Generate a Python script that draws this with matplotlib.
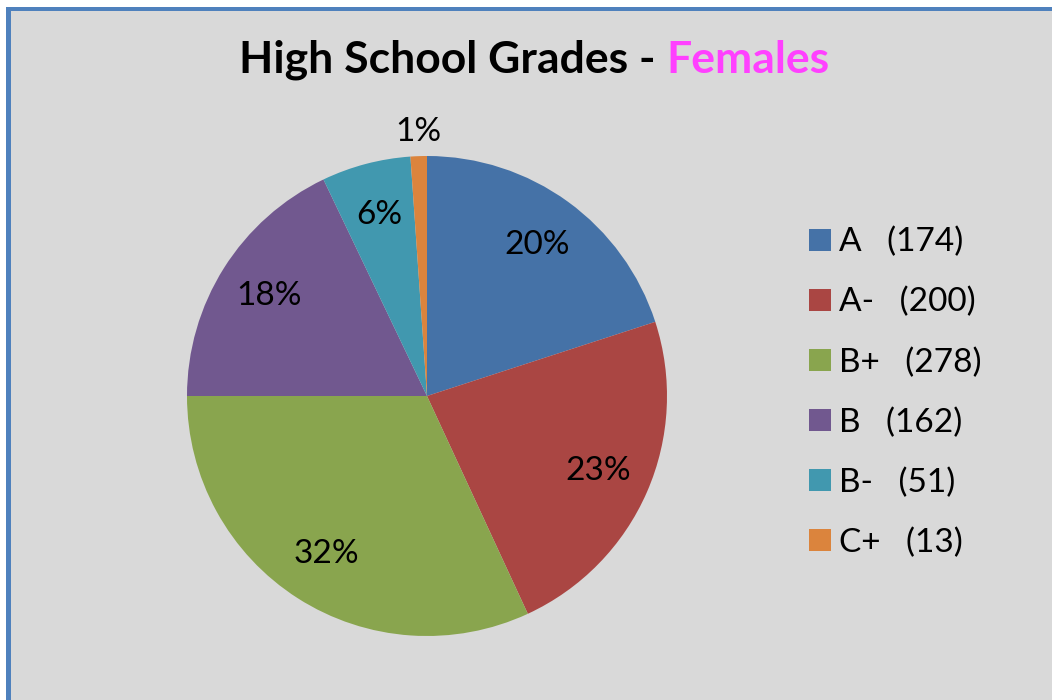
import matplotlib.pyplot as plt
from matplotlib.patches import Rectangle, Patch

grades = ['A', 'A-', 'B+', 'B', 'B-', 'C+']
counts = [174, 200, 278, 162, 51, 13]
# slice shares as drawn in the chart (percent)
shares = [20.0, 23.1, 31.9, 17.9, 6.0, 1.1]
legend_labels = ['A   (174)', 'A-   (200)', 'B+   (278)', 'B   (162)', 'B-   (51)', 'C+   (13)']
colors = ['#4572A7', '#AA4643', '#89A54E', '#71588F', '#4198AF', '#DB843D']

W, H = 1052, 700
plt.rcParams['font.family'] = ['Lato', 'DejaVu Sans']

fig = plt.figure(figsize=(W / 100, H / 100), dpi=100)
fig.patch.set_facecolor('white')

# chart area background and blue border on left / top
fig.patches.append(Rectangle((6 / W, 0), 1, 1 - 7 / H, transform=fig.transFigure,
                             facecolor='#D9D9D9', edgecolor='none', zorder=-2))
fig.patches.append(Rectangle((6 / W, 0), 5 / W, 1 - 7 / H, transform=fig.transFigure,
                             facecolor='#4F81BD', edgecolor='none', zorder=-1))
fig.patches.append(Rectangle((6 / W, 1 - 11 / H), 1, 4 / H, transform=fig.transFigure,
                             facecolor='#4F81BD', edgecolor='none', zorder=-1))

cx, cy, r = 427, 396, 240
ax = fig.add_axes([(cx - r) / W, (H - cy - r) / H, 2 * r / W, 2 * r / H])
ax.set_zorder(2)
ax.patch.set_visible(False)
wedges, texts, autotexts = ax.pie(shares, colors=colors, startangle=90, counterclock=False,
                                  autopct='%.0f%%', pctdistance=0.78,
                                  wedgeprops=dict(linewidth=0),
                                  textprops=dict(fontsize=24, color='black'))
# smallest slice label sits outside the pie
x, y = autotexts[-1].get_position()
autotexts[-1].set_position((x * 1.1 / 0.78, y * 1.1 / 0.78))
ax.set_xlim(-1, 1)
ax.set_ylim(-1, 1)
ax.axis('off')

handles = [Patch(facecolor=c, edgecolor='none') for c in colors]
fig.legend(handles, legend_labels, loc='upper left', bbox_to_anchor=(779 / W, 1 - 197 / H),
           frameon=False, fontsize=24, handlelength=0.65, handleheight=0.65,
           handletextpad=0.25, labelspacing=0.89)

# two-colour title
t1 = fig.text(0, 1 - 60 / H, 'High School Grades - ', fontsize=32, fontweight='bold',
              color='black', va='center')
t2 = fig.text(0, 1 - 60 / H, 'Females', fontsize=32, fontweight='bold',
              color='#FF40FF', va='center')
fig.canvas.draw()
rend = fig.canvas.get_renderer()
w1 = t1.get_window_extent(rend).width
w2 = t2.get_window_extent(rend).width
x0 = 534 - (w1 + w2) / 2
t1.set_x(x0 / W)
t2.set_x((x0 + w1) / W)

fig.savefig('out.png', dpi=100)
